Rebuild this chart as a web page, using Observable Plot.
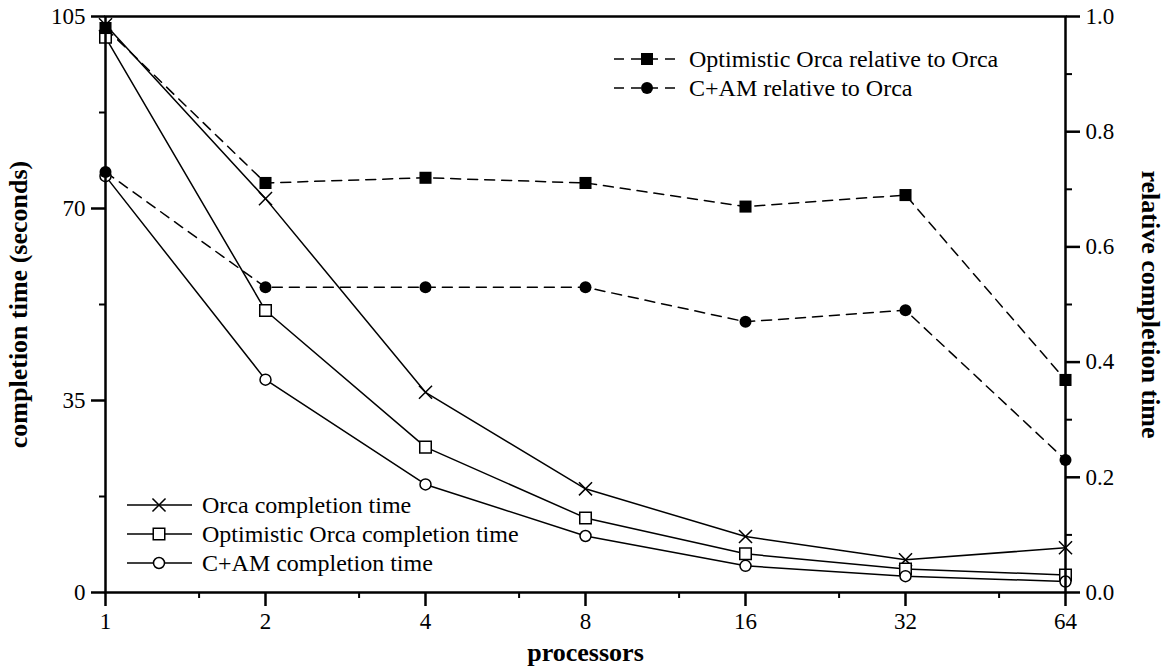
<!DOCTYPE html>
<html><head><meta charset="utf-8">
<script src="https://cdn.jsdelivr.net/npm/d3@7"></script>
<script src="https://cdn.jsdelivr.net/npm/@observablehq/plot@0.6"></script>
<style>
body{margin:0;background:#fff}
#chart svg{font-family:"Liberation Serif","Times New Roman",serif;background:#fff}
</style>
</head><body><div id="chart"></div>
<script>
// ---- data ----
const processors = [1, 2, 4, 8, 16, 32, 64];
const orcaTime = [103.5, 71.8, 36.5, 18.9, 10.2, 5.95, 8.15];
const optimisticTime = [101.2, 51.4, 26.5, 13.6, 7.05, 4.3, 3.2];
const camTime = [75.9, 38.8, 19.7, 10.3, 4.86, 2.98, 2.0];
const optimisticRel = [0.98, 0.711, 0.72, 0.711, 0.67, 0.69, 0.369];
const camRel = [0.73, 0.53, 0.53, 0.53, 0.47, 0.49, 0.23];

const xTicks = [1, 2, 4, 8, 16, 32, 64];
const xMinor = [1.5, 3, 6, 12, 24, 48];
const leftTicks = [0, 35, 70, 105];
const leftMinor = [17.5, 52.5, 87.5];
const rightTicks = [0, 0.2, 0.4, 0.6, 0.8, 1.0];
const rightMinor = [0.1, 0.3, 0.5, 0.7, 0.9];

const xTitle = "processors";
const leftTitle = "completion time (seconds)";
const rightTitle = "relative completion time";
const relLegend = ["Optimistic Orca relative to Orca", "C+AM relative to Orca"];
const timeLegend = ["Orca completion time", "Optimistic Orca completion time", "C+AM completion time"];

const LEFT_MAX = 105, RIGHT_MAX = 1.0;
const k = LEFT_MAX / RIGHT_MAX; // maps right-axis values onto the left scale

const rows = (vals) => processors.map((p, i) => ({p, v: vals[i]}));
const relRows = (vals) => processors.map((p, i) => ({p, v: vals[i] * k}));

const tickFont = 23;
const solid = {x: "p", y: "v", stroke: "black", strokeWidth: 1.5};
const dashed = {x: "p", y: "v", stroke: "black", strokeWidth: 1.5, strokeDasharray: "10,7"};

const plot = Plot.plot({
  width: 1170,
  height: 672,
  marginTop: 16,
  marginRight: 105,
  marginBottom: 80,
  marginLeft: 105,
  style: {fontFamily: '"Liberation Serif","Times New Roman",serif', background: "white"},
  x: {type: "log", base: 2, domain: [1, 64]},
  y: {domain: [0, LEFT_MAX]},
  marks: [
    // relative (dashed) series
    Plot.line(relRows(optimisticRel), dashed),
    Plot.line(relRows(camRel), dashed),
    // completion time (solid) series
    Plot.line(rows(orcaTime), solid),
    Plot.line(rows(optimisticTime), solid),
    Plot.line(rows(camTime), solid),
    Plot.dot(rows(orcaTime), {x: "p", y: "v", symbol: "times", r: 6, stroke: "black", strokeWidth: 1.5}),
    Plot.dot(rows(optimisticTime), {x: "p", y: "v", symbol: "square", r: 6.5, fill: "white", stroke: "black", strokeWidth: 1.5}),
    Plot.dot(rows(camTime), {x: "p", y: "v", symbol: "circle", r: 5.5, fill: "white", stroke: "black", strokeWidth: 1.5}),
    Plot.dot(relRows(optimisticRel), {x: "p", y: "v", symbol: "square", r: 6.8, fill: "black"}),
    Plot.dot(relRows(camRel), {x: "p", y: "v", symbol: "circle", r: 6, fill: "black"}),
    // axes
    Plot.axisX(xTicks, {tickSize: 14, tickPadding: 6, fontSize: tickFont, strokeWidth: 2.5, tickFormat: d => String(d), label: null}),
    Plot.axisX(xMinor, {tickSize: 6, strokeWidth: 2, tickFormat: () => "", label: null}),
    Plot.axisY(leftTicks, {anchor: "left", tickSize: 14, tickPadding: 6, fontSize: tickFont, strokeWidth: 2.5, tickFormat: d => String(d), label: null}),
    Plot.axisY(leftMinor, {anchor: "left", tickSize: 6, strokeWidth: 2, tickFormat: () => "", label: null}),
    Plot.axisY(rightTicks.map(d => d * k), {anchor: "right", tickSize: 14, tickPadding: 6, fontSize: tickFont, strokeWidth: 2.5, tickFormat: d => (d / k).toFixed(1), label: null}),
    Plot.axisY(rightMinor.map(d => d * k), {anchor: "right", tickSize: 6, strokeWidth: 2, tickFormat: () => "", label: null}),
    Plot.frame({stroke: "black", strokeWidth: 2.5}),
    // axis titles
    Plot.text([xTitle], {frameAnchor: "bottom", dy: 68, fontSize: 26, fontWeight: "bold", fill: "black", textAnchor: "middle"}),
    Plot.text([leftTitle], {frameAnchor: "left", dx: -87, rotate: -90, fontSize: 26, fontWeight: "bold", fill: "black", textAnchor: "middle"}),
    Plot.text([rightTitle], {frameAnchor: "right", dx: 85, rotate: 90, fontSize: 26, fontWeight: "bold", fill: "black", textAnchor: "middle"})
  ]
});

document.getElementById("chart").appendChild(plot);

// ---- legends (inside the plot area) ----
const svg = d3.select(plot);
const g = svg.append("g").attr("font-size", 24).attr("fill", "black").attr("text-anchor", "start");
const sym = (type, r) => d3.symbol(type, Math.PI * r * r)();

function legendRow(y, x0, x1, xm, xt, dash, type, r, fill, label) {
  g.append("line").attr("x1", x0).attr("x2", x1).attr("y1", y).attr("y2", y)
    .attr("stroke", "black").attr("stroke-width", 1.5).attr("stroke-dasharray", dash);
  g.append("path").attr("d", sym(type, r)).attr("transform", `translate(${xm},${y})`)
    .attr("fill", fill).attr("stroke", fill === "black" ? "none" : "black").attr("stroke-width", 1.5);
  g.append("text").attr("x", xt).attr("y", y).attr("dy", "0.35em").attr("text-anchor", "start").text(label);
}
legendRow(59, 614, 680, 647, 689, "10,7", d3.symbolSquare, 6.8, "black", relLegend[0]);
legendRow(88, 614, 680, 647, 689, "10,7", d3.symbolCircle, 6, "black", relLegend[1]);
legendRow(505, 127, 192, 159, 202, null, d3.symbolTimes, 6, "none", timeLegend[0]);
legendRow(534, 127, 192, 159, 202, null, d3.symbolSquare, 6.5, "white", timeLegend[1]);
legendRow(563, 127, 192, 159, 202, null, d3.symbolCircle, 5.5, "white", timeLegend[2]);
</script>
</body></html>
